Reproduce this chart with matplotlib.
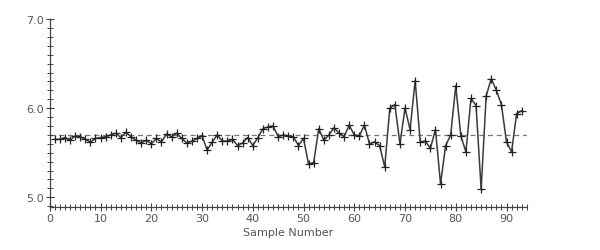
import numpy as np
import matplotlib
matplotlib.use("Agg")
import matplotlib.pyplot as plt
from matplotlib.ticker import MultipleLocator

# values, samples 1..93
values = [
    5.65, 5.65, 5.67, 5.64, 5.69, 5.68, 5.65, 5.62, 5.66, 5.67,
    5.68, 5.70, 5.72, 5.67, 5.73, 5.68, 5.64, 5.61, 5.64, 5.60,
    5.66, 5.62, 5.71, 5.68, 5.72, 5.66, 5.61, 5.63, 5.66, 5.69,
    5.53, 5.62, 5.70, 5.63, 5.63, 5.65, 5.58, 5.61, 5.67, 5.58,
    5.67, 5.77, 5.79, 5.80, 5.68, 5.70, 5.69, 5.68, 5.58, 5.66,
    5.37, 5.39, 5.77, 5.64, 5.70, 5.78, 5.72, 5.68, 5.81, 5.70,
    5.69, 5.81, 5.60, 5.62, 5.58, 5.34, 6.00, 6.04, 5.60, 6.00,
    5.76, 6.31, 5.62, 5.63, 5.55, 5.76, 5.15, 5.58, 5.70, 6.25,
    5.69, 5.51, 6.11, 6.03, 5.09, 6.14, 6.33, 6.20, 6.04, 5.62,
    5.51, 5.94, 5.97,
]
samples = np.arange(1, len(values) + 1)
center = 5.70

xticks = [0, 10, 20, 30, 40, 50, 60, 70, 80, 90]
yticks = [5.0, 6.0, 7.0]
ytick_labels = ["5.0", "6.0", "7.0"]

fig = plt.figure(figsize=(6, 2.51), dpi=100)
ax = fig.add_axes([0.083, 0.171, 0.795, 0.749])

ax.axhline(center, color="#777777", lw=0.9, ls=(0, (4, 3)), zorder=1)
ax.plot(samples, values, color="#3a3a3a", lw=1.1, marker="+", ms=5.5,
        mec="#222222", mew=0.9, zorder=2)

ax.set_xlim(0, 94)
ax.set_ylim(4.89, 7.0)

for s in ["top", "right"]:
    ax.spines[s].set_visible(False)
for s in ["left", "bottom"]:
    ax.spines[s].set_color("#444444")
    ax.spines[s].set_linewidth(0.9)

ax.set_xticks(xticks)
ax.xaxis.set_minor_locator(MultipleLocator(1))
ax.set_yticks(yticks)
ax.set_yticklabels(ytick_labels)
ax.yaxis.set_minor_locator(MultipleLocator(0.1))

ax.tick_params(which="major", direction="inout", length=6, width=0.8,
               color="#444444", labelsize=8, labelcolor="#555555", pad=1.5)
ax.tick_params(which="minor", direction="inout", length=4, width=0.7,
               color="#444444")

ax.set_xlabel("Sample Number", fontsize=8, color="#555555", labelpad=3)

fig.savefig("out.png", dpi=100)
